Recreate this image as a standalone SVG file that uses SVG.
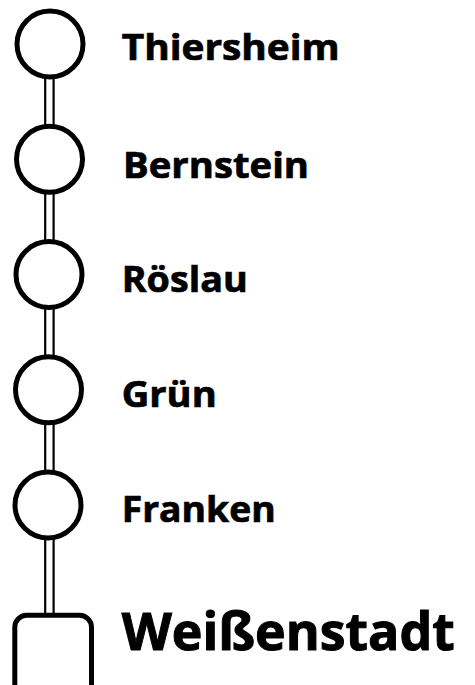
<svg xmlns="http://www.w3.org/2000/svg" width="475" height="685" viewBox="0 0 475 685">
<style>
.stop{fill:#fff;stroke:#000;stroke-width:5}
.link{fill:#fff;stroke:#000;stroke-width:2.2}
.lbl{font-family:"Open Sans","Liberation Sans",sans-serif;font-weight:bold;font-size:35.5px;fill:#000;stroke:#000;stroke-width:0.7}
.big{font-size:52px;stroke-width:1}
</style>
<rect width="475" height="685" fill="#fff"/>
<g id="connectors">
<rect class="link" x="45.2" y="72" width="8.4" height="58"/>
<rect class="link" x="45.2" y="187" width="8.4" height="58"/>
<rect class="link" x="45.2" y="302" width="8.4" height="58"/>
<rect class="link" x="45.2" y="418" width="8.4" height="58"/>
<rect class="link" x="45.2" y="533" width="8.4" height="84"/>
</g>
<g id="thiersheim"><circle class="stop" cx="50" cy="44" r="33"/><text class="lbl" x="121.7" y="60" textLength="218" lengthAdjust="spacingAndGlyphs">Thiersheim</text></g>
<g id="bernstein"><circle class="stop" cx="49.5" cy="159.3" r="33"/><text class="lbl" x="123" y="178" textLength="186" lengthAdjust="spacingAndGlyphs">Bernstein</text></g>
<g id="roeslau"><circle class="stop" cx="49" cy="274.5" r="33"/><text class="lbl" x="121.7" y="292" textLength="126" lengthAdjust="spacingAndGlyphs">Röslau</text></g>
<g id="gruen"><circle class="stop" cx="48.5" cy="389.8" r="33"/><text class="lbl" x="121.7" y="407" textLength="95" lengthAdjust="spacingAndGlyphs">Grün</text></g>
<g id="franken"><circle class="stop" cx="48" cy="505" r="33"/><text class="lbl" x="121.7" y="522" textLength="154" lengthAdjust="spacingAndGlyphs">Franken</text></g>
<g id="weissenstadt"><rect class="stop" x="14.8" y="615.2" width="76.7" height="100" rx="12"/><text class="lbl big" x="121.7" y="650" textLength="333" lengthAdjust="spacingAndGlyphs">Weißenstadt</text></g>
</svg>
